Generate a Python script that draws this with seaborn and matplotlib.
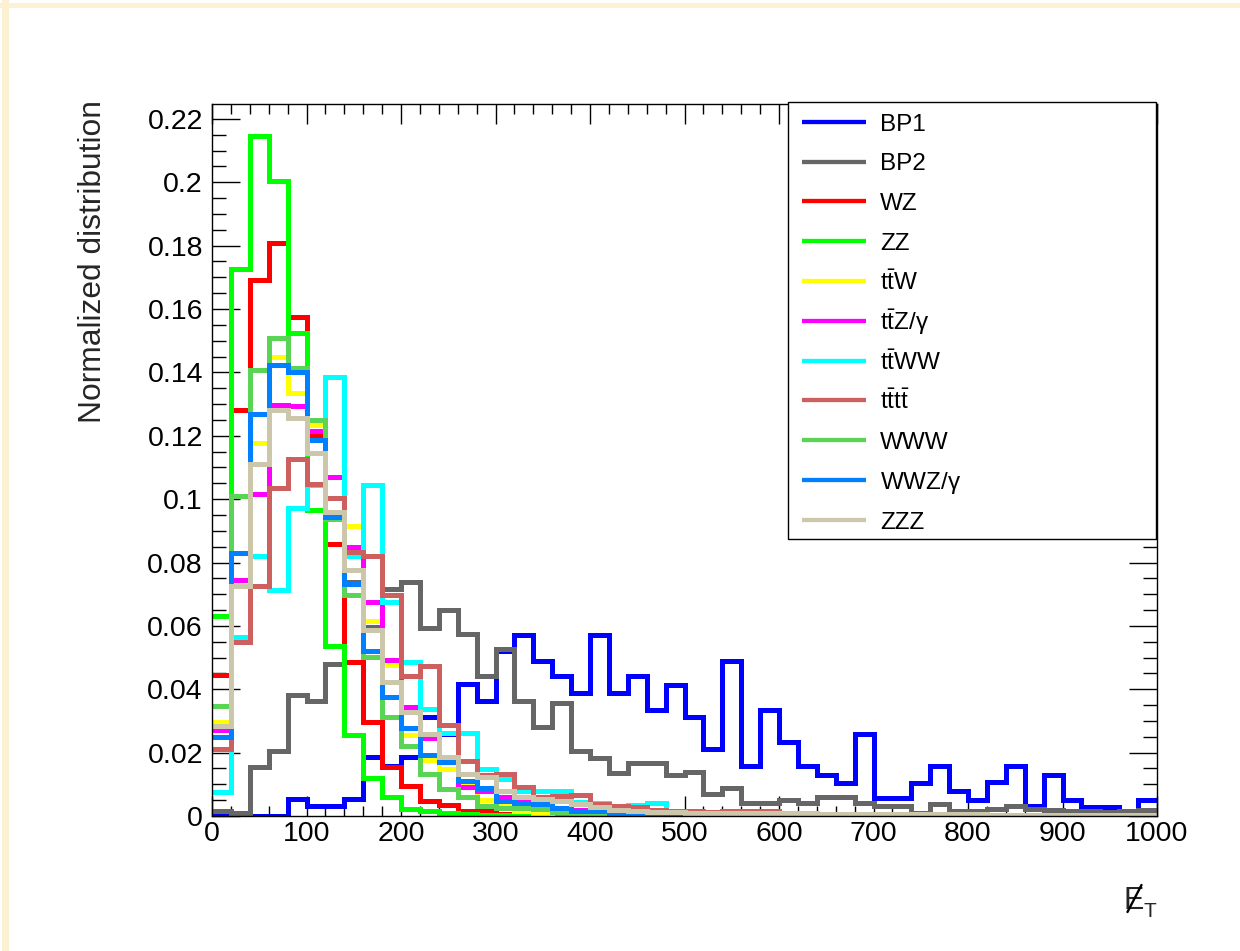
import numpy as np
import pandas as pd
import matplotlib
matplotlib.use("Agg")
import matplotlib.pyplot as plt
from matplotlib.patches import Rectangle
from matplotlib.lines import Line2D
from matplotlib.ticker import FixedLocator, MultipleLocator
import seaborn as sns

# ---------------- data (normalized distributions, 50 bins of 20 from 0 to 1000) -------------
bp1 = [0, 0, 0, 0, 0.0054, 0.003, 0.003, 0.0054, 0.0185, 0.0159,
       0.0185, 0.0312, 0.0258, 0.0417, 0.0362, 0.052, 0.057, 0.049, 0.0441, 0.0387,
       0.057, 0.0387, 0.0441, 0.0336, 0.0412, 0.0312, 0.0211, 0.049, 0.0157, 0.0336,
       0.0233, 0.0157, 0.013, 0.0104, 0.0259, 0.0056, 0.0056, 0.0105, 0.0157, 0.008,
       0.0051, 0.0106, 0.0157, 0.0033, 0.013, 0.0051, 0.0027, 0.0027, 0.0, 0.0051]
bp2 = [0.0017, 0.001, 0.0154, 0.0204, 0.0383, 0.0364, 0.0479, 0.0738, 0.0598, 0.0717,
       0.0738, 0.0592, 0.065, 0.0575, 0.0441, 0.0527, 0.0362, 0.028, 0.0356, 0.0204,
       0.0183, 0.0135, 0.0166, 0.0166, 0.0128, 0.0138, 0.0070, 0.0088, 0.004, 0.004,
       0.005, 0.004, 0.006, 0.006, 0.004, 0.0033, 0.0033, 0.0008, 0.0038, 0.0015,
       0.0015, 0.0022, 0.003, 0.0022, 0.002, 0.0015, 0.0015, 0.0012, 0.0015, 0.002]
wz = [0.0445, 0.1282, 0.169, 0.1807, 0.1576, 0.1201, 0.0857, 0.0485, 0.0296, 0.0154,
      0.0096, 0.0046, 0.0036, 0.0017, 0.0015, 0.0006, 0.0006, 0.0006, 0.0003, 0.0003,
      0.0002, 0.0002, 0.0001, 0.0001, 0.0001, 0, 0, 0, 0, 0,
      0, 0, 0, 0, 0, 0, 0, 0, 0, 0,
      0, 0, 0, 0, 0, 0, 0, 0, 0, 0]
zz = [0.063, 0.1726, 0.2146, 0.2004, 0.1523, 0.0966, 0.0535, 0.0255, 0.012, 0.0059,
      0.0022, 0.0017, 0.001, 0.0006, 0.0003, 0.0002, 0.0001, 0, 0, 0,
      0, 0, 0, 0, 0, 0, 0, 0, 0, 0,
      0, 0, 0, 0, 0, 0, 0, 0, 0, 0,
      0, 0, 0, 0, 0, 0, 0, 0, 0, 0]
ttw = [0.0296, 0.0736, 0.1178, 0.145, 0.1336, 0.1233, 0.107, 0.0914, 0.0614, 0.0478,
       0.0257, 0.0177, 0.0148, 0.0096, 0.005, 0.0033, 0.0015, 0.0008, 0.0012, 0.0008,
       0.0005, 0.0004, 0.0003, 0.0003, 0.0002, 0.0002, 0.0001, 0.0001, 0.0001, 0.0001,
       0, 0, 0, 0, 0, 0, 0, 0, 0, 0,
       0, 0, 0, 0, 0, 0, 0, 0, 0, 0]
ttz = [0.027, 0.0746, 0.1017, 0.1296, 0.1293, 0.1214, 0.107, 0.0849, 0.0675, 0.0492,
       0.0343, 0.0245, 0.017, 0.0093, 0.008, 0.0061, 0.0043, 0.004, 0.0022, 0.0019,
       0.0012, 0.001, 0.0008, 0.0006, 0.0005, 0.0004, 0.0003, 0.0003, 0.0002, 0.0002,
       0.0002, 0.0001, 0.0001, 0.0001, 0.0001, 0, 0, 0, 0, 0,
       0, 0, 0, 0, 0, 0, 0, 0, 0, 0]
ttww = [0.0075, 0.0564, 0.0822, 0.0712, 0.0972, 0.1044, 0.1386, 0.0822, 0.1044, 0.0675,
        0.0485, 0.0338, 0.0262, 0.0262, 0.0148, 0.0117, 0.0078, 0.0078, 0.0078, 0.0043,
        0.004, 0.0017, 0.0035, 0.0042, 0.0015, 0.001, 0.0008, 0.0008, 0.0006, 0.0005,
        0.0005, 0.0004, 0.0003, 0.0003, 0.0002, 0.0002, 0.0002, 0.0001, 0.0001, 0.0001,
        0.0001, 0, 0, 0, 0, 0, 0, 0, 0, 0]
tttt = [0.021, 0.0548, 0.0727, 0.1036, 0.1127, 0.1049, 0.1003, 0.0833, 0.0819, 0.0696,
        0.0443, 0.0472, 0.0288, 0.0175, 0.013, 0.0133, 0.009, 0.006, 0.0064, 0.0066,
        0.0038, 0.003, 0.0027, 0.002, 0.0015, 0.0015, 0.0012, 0.0015, 0.0015, 0.0015,
        0.001, 0.0008, 0.0006, 0.0005, 0.0004, 0.0004, 0.0003, 0.0003, 0.0002, 0.0002,
        0.0002, 0.0001, 0.0001, 0.0001, 0.0001, 0.0001, 0, 0, 0, 0]
www = [0.0348, 0.101, 0.1407, 0.1507, 0.1414, 0.1251, 0.0936, 0.0696, 0.0501, 0.0312,
       0.0222, 0.0133, 0.0085, 0.0059, 0.0033, 0.0025, 0.0025, 0.0022, 0.0012, 0.0008,
       0.0006, 0.0005, 0.0004, 0.0004, 0.0003, 0.0003, 0.0002, 0.0002, 0.0001, 0.0001,
       0.0001, 0, 0, 0, 0, 0, 0, 0, 0, 0,
       0, 0, 0, 0, 0, 0, 0, 0, 0, 0]
wwz = [0.025, 0.083, 0.127, 0.1423, 0.140, 0.1186, 0.0944, 0.0733, 0.0522, 0.0377,
       0.0277, 0.0193, 0.017, 0.0112, 0.0088, 0.0046, 0.004, 0.0038, 0.0025, 0.0017,
       0.0015, 0.0008, 0.0006, 0.0005, 0.0004, 0.0004, 0.0003, 0.0003, 0.0002, 0.0002,
       0.0002, 0.0001, 0.0001, 0.0001, 0.0001, 0, 0, 0, 0, 0,
       0, 0, 0, 0, 0, 0, 0, 0, 0, 0]
zzz = [0.0285, 0.0727, 0.111, 0.1282, 0.1256, 0.1146, 0.0959, 0.0777, 0.0588, 0.0422,
       0.0327, 0.026, 0.0187, 0.0133, 0.0122, 0.008, 0.0059, 0.0054, 0.0046, 0.0038,
       0.0027, 0.0019, 0.0017, 0.0014, 0.0012, 0.0011, 0.001, 0.001, 0.0009, 0.0009,
       0.0008, 0.0008, 0.0007, 0.0007, 0.0006, 0.0006, 0.0006, 0.0005, 0.0005, 0.0005,
       0.0005, 0.0004, 0.0004, 0.0004, 0.0004, 0.0003, 0.0003, 0.0003, 0.0003, 0.0003]

series = [bp1, bp2, wz, zz, ttw, ttz, ttww, tttt, www, wwz, zzz]
legend_labels = ["BP1", "BP2", "WZ", "ZZ",
                 r"$\mathrm{t\bar{t}W}$", r"$\mathrm{t\bar{t}Z/\gamma}$",
                 r"$\mathrm{t\bar{t}WW}$", r"$\mathrm{t\bar{t}t\bar{t}}$",
                 "WWW", r"$\mathrm{WWZ/\gamma}$", "ZZZ"]
colors = ["#0000FF", "#666666", "#FF0000", "#00FF00", "#FFFF00", "#FF00FF",
          "#00FFFF", "#CD5F5F", "#59D454", "#0080FF", "#CCC6AA"]

x_tick_values = [0, 100, 200, 300, 400, 500, 600, 700, 800, 900, 1000]
x_tick_labels = ["0", "100", "200", "300", "400", "500", "600", "700", "800", "900", "1000"]
y_tick_values = [0, 0.02, 0.04, 0.06, 0.08, 0.10, 0.12, 0.14, 0.16, 0.18, 0.20, 0.22]
y_tick_labels = ["0", "0.02", "0.04", "0.06", "0.08", "0.1", "0.12", "0.14", "0.16",
                 "0.18", "0.2", "0.22"]

bin_edges = [float(e) for e in np.arange(0, 1001, 20)]
bin_centers = np.arange(0, 1000, 20) + 10

# ---------------- style -----------------
sns.set_theme(style="ticks")
plt.rcParams["font.family"] = ["Liberation Sans", "DejaVu Sans"]
plt.rcParams["mathtext.fontset"] = "custom"
plt.rcParams["mathtext.rm"] = "Liberation Sans"
plt.rcParams["mathtext.it"] = "Liberation Sans:italic"
plt.rcParams["mathtext.bf"] = "Liberation Sans:bold"
plt.rcParams["axes.edgecolor"] = "black"
plt.rcParams["xtick.color"] = "black"
plt.rcParams["ytick.color"] = "black"

W, H = 1240, 951
fig = plt.figure(figsize=(W / 100, H / 100), dpi=100)
fig.patch.set_facecolor("white")
ax = fig.add_axes([212 / W, 1 - 816 / H, (1157 - 212) / W, (816 - 104) / H])
ax.set_facecolor("white")

for vals, lab, col in zip(series, legend_labels, colors):
    df = pd.DataFrame({"met": bin_centers, "w": vals})
    sns.histplot(data=df, x="met", weights="w", bins=bin_edges, element="step",
                 fill=False, color=col, linewidth=3.6, ax=ax, label=lab)

for line in ax.lines:
    line.set_solid_joinstyle("miter")
    line.set_solid_capstyle("butt")

ax.set_xlim(0, 1000)
ax.set_ylim(0, 0.2247)
ax.set_xlabel("")
ax.set_ylabel("")
ax.grid(False)

ax.xaxis.set_major_locator(FixedLocator(x_tick_values))
ax.set_xticklabels(x_tick_labels)
ax.xaxis.set_minor_locator(MultipleLocator(20))
ax.yaxis.set_major_locator(FixedLocator(y_tick_values))
ax.set_yticklabels(y_tick_labels)
ax.yaxis.set_minor_locator(MultipleLocator(0.005))

ax.tick_params(which="both", direction="in", top=True, right=True, width=1.0,
               colors="black", labelsize=20.5)
ax.tick_params(axis="x", which="major", length=14.5, pad=3.5)
ax.tick_params(axis="x", which="minor", length=7.2)
ax.tick_params(axis="y", which="major", length=20, pad=6.5)
ax.tick_params(axis="y", which="minor", length=10)
for sp in ax.spines.values():
    sp.set_visible(True)
    sp.set_color("black")
    sp.set_linewidth(1.0)

ax.set_ylabel("Normalized distribution", fontsize=22.9, loc="top")
ax.yaxis.set_label_coords(-0.110, 1.006)

# legend (drawn over the top-right corner of the frame, as in ROOT)
box = Rectangle((788 / W, 1 - 539 / H), (1156 - 788) / W, (539 - 102) / H,
                transform=fig.transFigure, facecolor="white", edgecolor="black",
                linewidth=1.0, zorder=4)
fig.add_artist(box)
for i, (lab, col) in enumerate(zip(legend_labels, colors)):
    yc = 121.7 + 39.8 * i
    fig.add_artist(Line2D([802 / W, 866 / W], [1 - yc / H, 1 - yc / H],
                          transform=fig.transFigure, color=col, linewidth=3.1,
                          solid_capstyle="butt", zorder=5))
    fig.text(880 / W, 1 - (yc + 9.0) / H, lab, fontsize=17.5, ha="left",
             va="baseline", color="black", zorder=6)

# x-axis title: missing E_T (slashed E)
fig.text(1124 / W, 1 - 909 / H, "E", fontsize=22, ha="left", va="baseline")
fig.add_artist(Line2D([1127.5 / W, 1141.5 / W], [1 - 912 / H, 1 - 885 / H],
                      transform=fig.transFigure, color="black", linewidth=1.7,
                      zorder=6))
fig.text(1144 / W, 1 - 917 / H, "T", fontsize=15, ha="left", va="baseline")

# pale paper-like border strips
fig.add_artist(Rectangle((2 / W, 0), 7 / W, 1, transform=fig.transFigure,
                         facecolor="#FCF1D2", edgecolor="none", zorder=-1))
fig.add_artist(Rectangle((0, 1 - 7.5 / H), 1, 5 / H, transform=fig.transFigure,
                         facecolor="#FCF1D2", edgecolor="none", zorder=-1))

fig.savefig("out.png", dpi=100)
